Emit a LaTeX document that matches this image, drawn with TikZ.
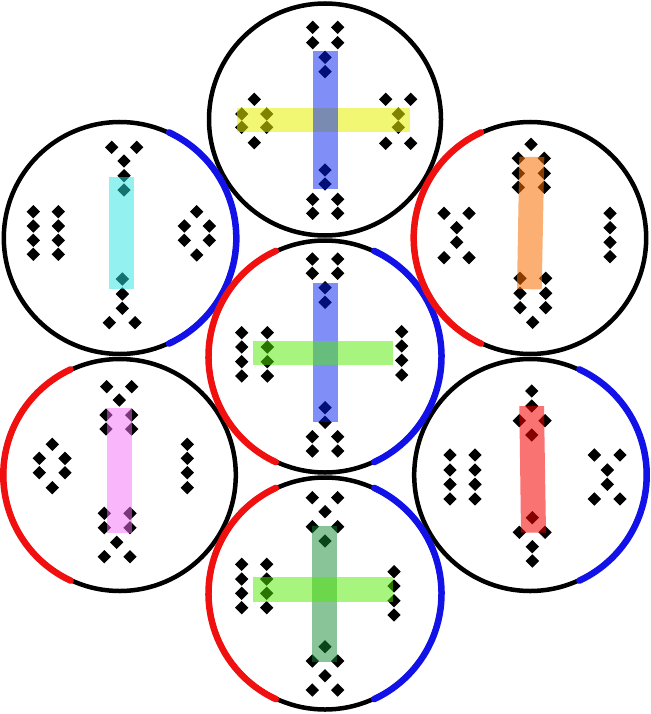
\documentclass[tikz,border=0pt]{standalone}
\usepackage{tikz}
\definecolor{arcred}{RGB}{240,16,16}
\definecolor{arcblue}{RGB}{18,18,232}
\definecolor{barblue}{RGB}{0,32,240}
\definecolor{baryellow}{RGB}{232,240,0}
\definecolor{barlime}{RGB}{80,235,0}
\definecolor{barsea}{RGB}{20,138,50}
\definecolor{barcyan}{RGB}{40,228,225}
\definecolor{barorange}{RGB}{250,110,0}
\definecolor{barpink}{RGB}{245,110,245}
\definecolor{barred}{RGB}{245,0,0}
\tikzstyle{ring} = [
    draw=black,
    line width=4.5pt
]
\tikzstyle{redarc} = [
    draw=arcred,
    line width=6.5pt,
    line cap=round
]
\tikzstyle{bluearc} = [
    draw=arcblue,
    line width=6.5pt,
    line cap=round
]
\tikzstyle{bar} = [
    fill opacity=0.5
]
\tikzset{dmd/.pic={\fill (-6.7,0) -- (0,6.7) -- (6.7,0) -- (0,-6.7) -- cycle;}}

\begin{document}
\begin{tikzpicture}[x=1pt, y=-1pt]
        \useasboundingbox (0,0) rectangle (650,714);
        \coordinate (top) at (325,119.5);
        \coordinate (nw) at (119.8,238);
        \coordinate (ne) at (530.2,238);
        \coordinate (mid) at (325,356.5);
        \coordinate (sw) at (119.8,475);
        \coordinate (se) at (530.2,475);
        \coordinate (bot) at (325,593.5);

        % rings
        \foreach \c in {top,nw,ne,mid,sw,se,bot}
            \draw[ring] (\c) circle[radius=116];

        % coloured arcs
        \foreach \c in {nw,mid,se,bot}
            \draw[bluearc] (\c) ++(-65:116.5) arc[start angle=-65, end angle=65, radius=116.5];
        \foreach \c in {ne,mid,sw,bot}
            \draw[redarc] (\c) ++(115:116.5) arc[start angle=115, end angle=245, radius=116.5];

        % top
        \foreach \x/\y in {312.7/27.3, 337.7/27.3, 312.7/42.7, 337.7/42.7, 325/57.3, 325/71.7,
            325/170, 325/184, 312.7/199.3, 337.7/199.3, 312.7/213.3, 337.7/213.3,
            254.3/99.3, 241.7/114, 266.7/114, 241.7/127.3, 266.7/127.3, 254.3/142.7,
            385.7/99.3, 410.7/99.3, 398.3/114, 398.3/127.3, 385.7/143.3, 410.7/143.3}
            \pic at (\x,\y) {dmd};
        \fill[bar, fill=baryellow, fill opacity=0.55] (237.3,107.7) rectangle (410,132.3);
        \fill[bar, fill=barblue] (313.3,50.7) rectangle (338.3,189.3);

        % upper left
        \foreach \x/\y in {111.7/147.3, 136.7/147.3, 124/161, 124/175.7, 124/190,
            122.3/279, 122.3/294, 122.3/308.3, 109.3/322.7, 135/322.7,
            33.3/211.7, 58.3/211.7, 33.3/226, 58.3/226, 33.3/240.3, 58.3/240.3, 33.3/254.3, 58.3/254.3,
            196.7/211.7, 184.3/226, 209.3/226, 184.3/240.3, 209.3/240.3, 196.7/255}
            \pic at (\x,\y) {dmd};
        \fill[bar, fill=barcyan] (109.3,176.7) rectangle (134.3,289.3);

        % upper right
        \foreach \x/\y in {531/144.3, 518.3/158.3, 544.3/158.3, 518.3/173.3, 544.3/173.3, 518.3/187.3, 544.3/187.3,
            520/278.3, 545.7/278.3, 520/293.3, 545.7/293.3, 520/307.7, 545.7/307.7, 532.7/322.3,
            444/213.3, 469/213.3, 456.7/227.7, 456.7/242.3, 444/257.7, 469/257.7,
            610/213.3, 610/227.7, 610/242.3, 610/256.7}
            \pic at (\x,\y) {dmd};
        \fill[bar, fill=barorange, fill opacity=0.55] (519.3,156.7) -- (544.3,157) -- (541.7,289.5) -- (517,289) -- cycle;

        % middle
        \foreach \x/\y in {312.3/259, 337.7/259, 312.3/273.3, 337.7/273.3, 325/287.7, 325/302.3,
            325/407.7, 325/422.3, 312.3/436.7, 337.7/436.7, 312.3/451, 337.7/451,
            241.7/332.7, 267.3/332.7, 241.7/347, 267.3/347, 241.7/361.7, 267.3/361.7, 241.7/376, 267.3/376,
            401.7/331.7, 401.7/346, 401.7/360.3, 401.7/375}
            \pic at (\x,\y) {dmd};
        \fill[bar, fill=barblue] (313.3,283.3) rectangle (338.3,422.3);
        \fill[bar, fill=barlime] (253.3,340.7) rectangle (393.3,365);

        % lower left
        \foreach \x/\y in {106.7/386.7, 131.7/386.7, 119.3/400, 106/415, 131.7/415, 106/429, 131.7/429,
            104.3/513.3, 130/513.3, 104.3/527.7, 130/527.7, 116.7/542.3, 104.3/556.7, 130/556.7,
            52.3/444.3, 39.3/458.3, 65/458.3, 39.3/472.7, 65/472.7, 52.3/487.7,
            187.3/444.3, 187.3/458.3, 187.3/472.7, 187.3/487.7}
            \pic at (\x,\y) {dmd};
        \fill[bar, fill=barpink] (107.3,407.7) rectangle (132.3,532.7);

        % lower right
        \foreach \x/\y in {531.7/391, 531.7/406, 519.3/420.7, 545/420.7, 531.7/435,
            532.3/517.7, 519.3/532.3, 545/532.3, 532.3/546.7, 532.3/561,
            450/455, 475/455, 450/470, 475/470, 450/484.3, 475/484.3, 450/499, 475/499,
            594.3/455, 620/455, 607.3/470, 607.3/484.3, 594.3/499, 620/499}
            \pic at (\x,\y) {dmd};
        \fill[bar, fill=barred, fill opacity=0.55] (519.3,406) -- (544,406) -- (546,532.7) -- (521,532.7) -- cycle;

        % bottom
        \foreach \x/\y in {312.3/497.7, 337.7/497.7, 325/511.7, 312.3/526.7, 337.7/526.7, 325/541,
            325/646.7, 312.3/661, 337.7/661, 325/675.7, 312.3/690, 337.7/690,
            241.7/564.3, 266.7/564.3, 241.7/579, 266.7/579, 241.7/593.3, 266.7/593.3, 241.7/607.7, 266.7/607.7,
            394/571.7, 394/586, 394/600.7, 394/615}
            \pic at (\x,\y) {dmd};
        \fill[bar, fill=barsea] (311.7,525.7) rectangle (336.7,662.3);
        \fill[bar, fill=barlime] (253.3,576.7) rectangle (393.3,601.7);
    \end{tikzpicture}
\end{document}
